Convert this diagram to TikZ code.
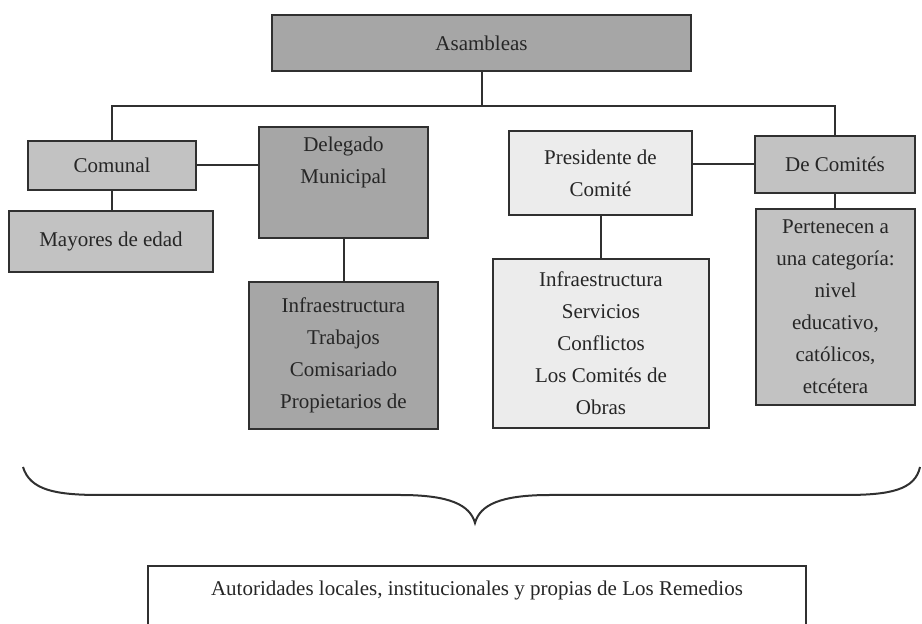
\documentclass[tikz,border=0pt]{standalone}
\usepackage{fontspec}
\setmainfont{Liberation Serif}
\usepackage{xcolor}
\usetikzlibrary{positioning}

\definecolor{darkfill}{HTML}{A6A6A6}
\definecolor{midfill}{HTML}{C2C2C2}
\definecolor{lightfill}{HTML}{ECECEC}
\definecolor{inkline}{HTML}{303030}

\begin{document}
\begin{tikzpicture}[x=0.5pt,y=-0.5pt,
		caja/.style={draw=inkline, line width=1.2pt, rectangle, align=center, text=black!85,
			font=\fontsize{10.5}{16}\selectfont, inner sep=0pt},
		liga/.style={draw=inkline, line width=1pt}]
	\useasboundingbox (0,0) rectangle (922,624);

	% nivel superior
	\node[caja, fill=darkfill, minimum width=209.5pt, minimum height=28pt] (asam) at (481.5,43) {Asambleas};
	\coordinate (barra) at (481.5,106);

	% rama izquierda
	\node[caja, fill=midfill, minimum width=84pt, minimum height=24.5pt] (com) at (112,165.5) {Comunal};
	\node[caja, fill=midfill, minimum width=102pt, minimum height=30.5pt] (may) at (111,241.5) {Mayores de edad};
	\node[caja, fill=darkfill, minimum width=84.5pt, minimum height=55.5pt] (del) at (343.5,182.5) {};
	\node[caja, draw=none, below=5pt of del.north] (deltxt) {Delegado\\Municipal};
	\node[caja, fill=darkfill, minimum width=94.5pt, minimum height=73.5pt] (infd) at (343.5,355.5)
		{Infraestructura\\Trabajos\\Comisariado\\Propietarios de};

	% rama derecha
	\node[caja, fill=lightfill, minimum width=91.5pt, minimum height=42pt] (pres) at (600.5,173) {Presidente de\\Comit\'e};
	\node[caja, fill=lightfill, minimum width=108pt, minimum height=84.5pt] (infp) at (601,343.5)
		{Infraestructura\\Servicios\\Conflictos\\Los Comit\'es de\\Obras};
	\node[caja, fill=midfill, minimum width=80pt, minimum height=28.5pt] (dec) at (835,164.5) {De Comit\'es};
	\node[caja, fill=midfill, minimum width=79.5pt, minimum height=98pt] (pert) at (835.5,307)
		{Pertenecen a\\una categor\'ia:\\nivel\\educativo,\\cat\'olicos,\\etc\'etera};

	% conectores
	\draw[liga] (asam.south) -- (asam.south |- barra);
	\draw[liga] (com.north) -- (com.north |- barra) -- (dec.north |- barra) -- (dec.north);
	\draw[liga] (com.east) -- (com.east -| del.west);
	\draw[liga] (com.south) -- (com.south |- may.north);
	\draw[liga] (del.south) -- (infd.north);
	\draw[liga] (dec.west) -- (dec.west -| pres.east);
	\draw[liga] (pres.south) -- (pres.south |- infp.north);
	\draw[liga] (dec.south) -- (dec.south |- pert.north);

	% llave
	\draw[inkline, line width=1pt] (23,467) .. controls (30,490) and (55,495) .. (100,495) -- (400,495)
		.. controls (450,495) and (470,505) .. (475,523)
		.. controls (480,505) and (500,495) .. (550,495) -- (845,495)
		.. controls (890,495) and (915,490) .. (920,467);

	% pie
	\node[caja, fill=white, minimum width=329pt, anchor=north, inner ysep=7.5pt, text depth=40pt] (auto) at (477,565)
		{Autoridades locales, institucionales y propias de Los Remedios};
\end{tikzpicture}
\end{document}
